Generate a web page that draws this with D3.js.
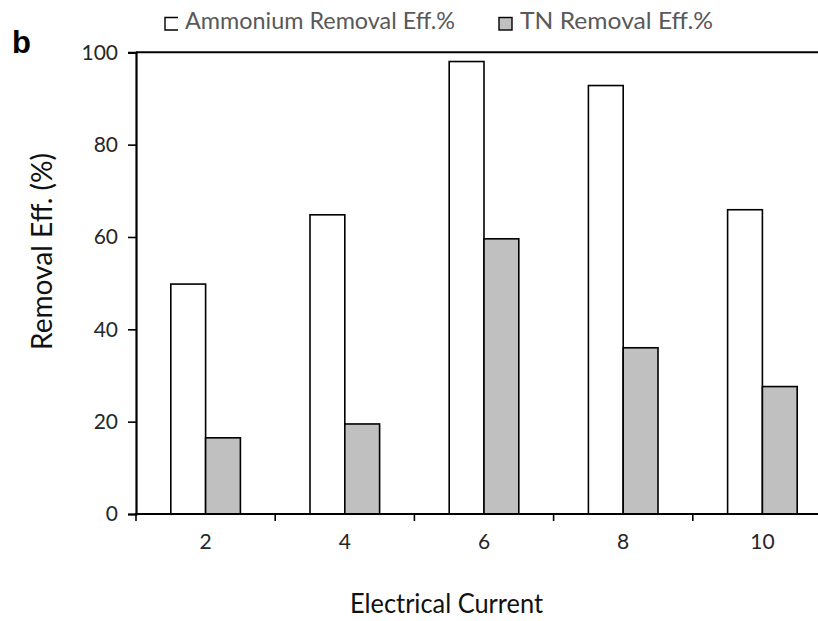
<!DOCTYPE html>
<html>
<head>
<meta charset="utf-8">
<script src="https://cdn.jsdelivr.net/npm/d3@7"></script>
<style>
  html, body { margin: 0; padding: 0; background: #fff; }
  svg { display: block; }
</style>
</head>
<body>
<svg id="chart" width="818" height="621"></svg>
<script>
// Removal efficiency by applied electrical current
const categories = ["2", "4", "6", "8", "10"];
const seriesNames = ["Ammonium Removal Eff.%", "TN Removal Eff.%"];
const ammoniumEff = [49.8, 64.8, 98.0, 92.8, 65.9];
const tnEff = [16.5, 19.5, 59.6, 36.0, 27.6];
const yTicks = [0, 20, 40, 60, 80, 100];
const seriesFill = ["#ffffff", "#c0c0c0"];

const svg = d3.select("#chart");
const FONT = "Lato, 'Open Sans', sans-serif";

const plotLeft = 136, plotRight = 832, plotTop = 52.3, plotBottom = 514;

const x0 = d3.scaleBand().domain(categories).range([plotLeft, plotRight]).padding(0);
const x1 = d3.scaleBand().domain(seriesNames)
  .range([x0.bandwidth() * 0.25, x0.bandwidth() * 0.75]).padding(0);
const y = d3.scaleLinear().domain([0, 100]).range([plotBottom, plotTop]);

const rows = categories.map((c, i) => ({
  cat: c,
  vals: [
    { s: seriesNames[0], v: ammoniumEff[i], fill: seriesFill[0] },
    { s: seriesNames[1], v: tnEff[i], fill: seriesFill[1] }
  ]
}));

// bars
const groups = svg.append("g").selectAll("g").data(rows).join("g")
  .attr("transform", d => `translate(${x0(d.cat)},0)`);
groups.selectAll("rect").data(d => d.vals).join("rect")
  .attr("x", d => x1(d.s))
  .attr("y", d => y(d.v))
  .attr("width", x1.bandwidth())
  .attr("height", d => y(0) - y(d.v))
  .attr("fill", d => d.fill)
  .attr("stroke", "#000")
  .attr("stroke-width", 1.6);

// top frame line at 100
svg.append("line")
  .attr("x1", plotLeft).attr("x2", plotRight)
  .attr("y1", y(100)).attr("y2", y(100))
  .attr("stroke", "#000").attr("stroke-width", 2);

// y axis
const yAxis = d3.axisLeft(y).tickValues(yTicks).tickSize(8).tickPadding(10);
const gy = svg.append("g").attr("transform", `translate(${plotLeft},0)`).call(yAxis);
gy.select(".domain").attr("stroke-width", 2.2);
gy.selectAll(".tick line").attr("stroke-width", 1.6);
gy.selectAll(".tick text")
  .attr("font-family", FONT).attr("font-size", 21).attr("fill", "#262626");

// x axis: line, boundary ticks, centred labels
const gx = svg.append("g");
gx.append("line")
  .attr("x1", plotLeft - 1).attr("x2", plotRight)
  .attr("y1", y(0)).attr("y2", y(0))
  .attr("stroke", "#000").attr("stroke-width", 2);
const bounds = categories.map(c => x0(c)).concat([x0.range()[1]]);
gx.selectAll(".bt").data(bounds).join("line")
  .attr("x1", d => d).attr("x2", d => d)
  .attr("y1", y(0)).attr("y2", y(0) + 7)
  .attr("stroke", "#000").attr("stroke-width", 1.6);
gx.selectAll(".xl").data(categories).join("text")
  .attr("x", d => x0(d) + x0.bandwidth() / 2)
  .attr("y", 549)
  .attr("text-anchor", "middle")
  .attr("font-family", FONT).attr("font-size", 21).attr("fill", "#262626")
  .text(d => d);

// axis titles
svg.append("text")
  .attr("x", 350).attr("y", 613)
  .attr("font-family", FONT).attr("font-size", 27).attr("fill", "#111")
  .attr("textLength", 193).attr("lengthAdjust", "spacingAndGlyphs")
  .text("Electrical Current");

svg.append("text")
  .attr("transform", "translate(52,251.5) rotate(-90)")
  .attr("text-anchor", "middle")
  .attr("font-family", FONT).attr("font-size", 28).attr("fill", "#111")
  .attr("textLength", 197).attr("lengthAdjust", "spacingAndGlyphs")
  .text("Removal Eff. (%)");

// panel letter
svg.append("text")
  .attr("x", 12).attr("y", 53)
  .attr("font-family", "'Liberation Sans', Arial, sans-serif")
  .attr("font-weight", "bold").attr("font-size", 31).attr("fill", "#000")
  .text("b");

// legend
const legendItems = [
  { name: seriesNames[0], fill: seriesFill[0], x: 165, tx: 185, w: 270 },
  { name: seriesNames[1], fill: seriesFill[1], x: 499, tx: 520, w: 193 }
];
const lg = svg.append("g").selectAll("g").data(legendItems).join("g");
lg.filter((d, i) => i === 0).append("path")
  .attr("d", d => `M${d.x + 13},17.5 H${d.x} V30 H${d.x + 13}`)
  .attr("fill", "#fff").attr("stroke", "#000").attr("stroke-width", 1.4);
lg.filter((d, i) => i === 1).append("rect")
  .attr("x", d => d.x).attr("y", 17.5).attr("width", 13).attr("height", 12.5)
  .attr("fill", d => d.fill).attr("stroke", "#000").attr("stroke-width", 1.4);
lg.append("text")
  .attr("x", d => d.tx).attr("y", 29)
  .attr("font-family", FONT).attr("font-size", 23).attr("fill", "#595959")
  .attr("textLength", d => d.w).attr("lengthAdjust", "spacingAndGlyphs")
  .text(d => d.name);
</script>
</body>
</html>
